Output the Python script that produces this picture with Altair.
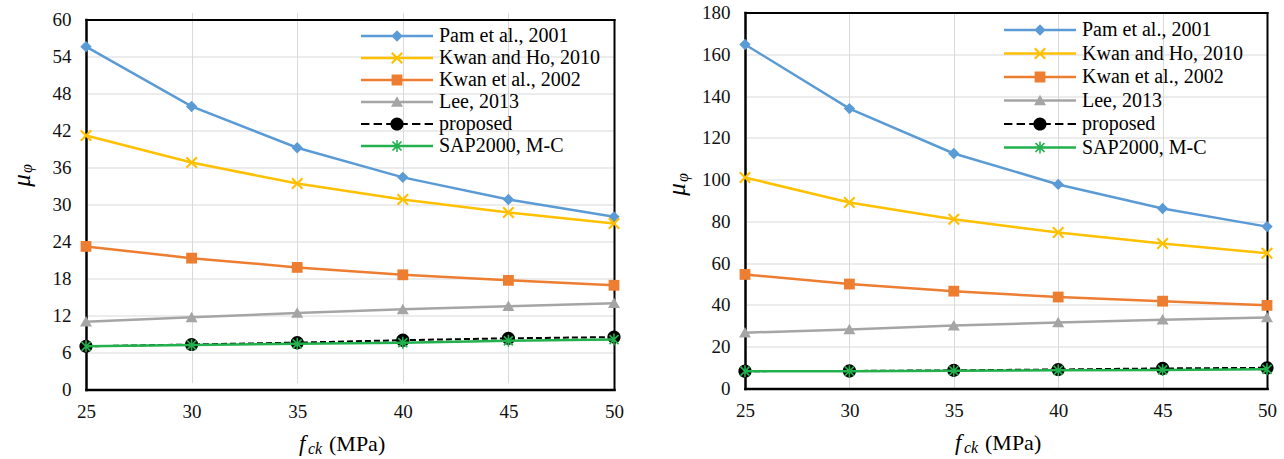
import altair as alt
import pandas as pd

FONT = "Liberation Serif"

FCK = [25, 30, 35, 40, 45, 50]
SERIES = ["Pam et al., 2001", "Kwan and Ho, 2010", "Kwan et al., 2002",
          "Lee, 2013", "proposed", "SAP2000, M-C"]
COLORS = ["#5B9BD5", "#FFC000", "#ED7D31", "#A5A5A5", "#000000", "#22B14C"]

# left panel values
LEFT_PAM = [55.6, 45.9, 39.2, 34.4, 30.8, 28.0]
LEFT_KWAN_HO = [41.2, 36.8, 33.4, 30.8, 28.7, 26.9]
LEFT_KWAN = [23.2, 21.3, 19.8, 18.6, 17.7, 16.9]
LEFT_LEE = [11.0, 11.7, 12.4, 13.0, 13.5, 14.0]
LEFT_PROPOSED = [7.0, 7.3, 7.6, 8.0, 8.3, 8.5]
LEFT_SAP = [7.0, 7.2, 7.4, 7.6, 7.9, 8.1]
LEFT_YTICKS = [0, 6, 12, 18, 24, 30, 36, 42, 48, 54, 60]

# right panel values
RIGHT_PAM = [164.7, 134.0, 112.5, 97.7, 86.2, 77.5]
RIGHT_KWAN_HO = [101.0, 89.0, 81.0, 74.7, 69.4, 64.8]
RIGHT_KWAN = [54.6, 50.0, 46.6, 43.8, 41.8, 39.8]
RIGHT_LEE = [26.7, 28.3, 30.1, 31.6, 32.9, 34.0]
RIGHT_PROPOSED = [8.3, 8.4, 8.7, 9.1, 9.6, 9.9]
RIGHT_SAP = [8.3, 8.3, 8.5, 8.7, 8.9, 9.2]
RIGHT_YTICKS = [0, 20, 40, 60, 80, 100, 120, 140, 160, 180]


# ---- marker shapes (unit coordinates) ----
def poly(points, dx=0.0):
    return "M" + "L".join(f"{x + dx:.3f},{y:.3f}" for x, y in points) + "Z"


def xshape(s, t):
    return [(-s, -s + t), (-s + t, -s), (0, -t), (s - t, -s), (s, -s + t), (t, 0),
            (s, s - t), (s - t, s), (0, t), (-s + t, s), (-s, s - t), (-t, 0)]


def marker(i, dx=0.0):
    if i == 0:
        return poly([(0, -0.95), (0.95, 0), (0, 0.95), (-0.95, 0)], dx)
    if i == 1:
        return poly(xshape(1.0, 0.25), dx)
    if i == 2:
        return poly([(-0.9, -0.9), (0.9, -0.9), (0.9, 0.9), (-0.9, 0.9)], dx)
    if i == 3:
        return poly([(0, -0.95), (1.0, 0.8), (-1.0, 0.8)], dx)
    if i == 4:
        r = 1.1
        return (f"M{dx + r:.3f},0A{r},{r} 0 1,1 {dx - r:.3f},0"
                f"A{r},{r} 0 1,1 {dx + r:.3f},0Z")
    return (poly(xshape(0.85, 0.2), dx)
            + poly([(-0.13, -1.0), (0.13, -1.0), (0.13, 1.0), (-0.13, 1.0)], dx))


def glyph(i):
    if SERIES[i] == "proposed":
        segs = [(-11, -9.6), (-8.9, -7.5), (-6.8, -6.0), (-4.0, -3.2), (-2.5, -1.1), (-0.4, 1.0)]
        h = 0.17
    else:
        segs = [(-11, 1.0)]
        h = 0.21
    line = "".join(poly([(a, -h), (b, -h), (b, h), (a, h)]) for a, b in segs)
    return line + marker(i, -5.0)


GLYPHS = [glyph(i) for i in range(len(SERIES))]


def text_piece(text, x, y, size, italic=False, angle=0, align="left", baseline="alphabetic"):
    kw = dict(text=text, font=FONT, fontSize=size, color="black", align=align,
              baseline=baseline, fontStyle="italic" if italic else "normal")
    if angle:
        kw["angle"] = angle
    return alt.Chart(alt.InlineData(values=[{}])).mark_text(**kw).encode(
        x=alt.value(x), y=alt.value(y))


def panel(series_values, ydom, yticks, W, H, top_gap, leg_x, leg_y, row_pad, ytitle):
    rows = []
    for s, vals in zip(SERIES, series_values):
        for xv, v in zip(FCK, vals):
            rows.append({"fck": xv, "mu": v, "series": s})
    df = pd.DataFrame(rows)
    ylo, yhi = ydom

    xscale = alt.Scale(domain=[25, 50], nice=False, zero=False)
    yscale = alt.Scale(domain=[ylo, yhi], nice=False, range=[H, top_gap])

    label_kw = dict(labelFont=FONT, labelFontSize=19, labelColor="#111111", labelFlush=False)

    # axes with labels and grid (bottom / left)
    xax = alt.Axis(orient="bottom", values=FCK, title=None, labelPadding=13, grid=True, gridWidth=1,
                   gridColor={"condition": {"test": "datum.value == 25 || datum.value == 50",
                                            "value": "transparent"}, "value": "#d9d9d9"},
                   domainColor="black", domainWidth=2.5, domainCap="square", ticks=False,
                   **label_kw)
    yax = alt.Axis(orient="left", values=yticks, title=None, labelPadding=15, grid=True, gridWidth=1,
                   gridColor={"condition": {"test": f"datum.value == {ylo} || datum.value == {yhi}",
                                            "value": "transparent"}, "value": "#d9d9d9"},
                   domainColor="black", domainWidth=2.5, domainCap="square", ticks=False,
                   **label_kw)
    # frame lines only (top / right)
    xtop = alt.Axis(orient="top", values=FCK, title=None, labels=False, grid=False,
                    offset=-top_gap, domainColor="black", domainWidth=2, domainCap="square",
                    ticks=False)
    yright = alt.Axis(orient="right", values=yticks, title=None, labels=False, grid=False,
                      domainColor="black", domainWidth=2, domainCap="square", ticks=False)

    base = alt.Chart(df).encode(
        x=alt.X("fck:Q", scale=xscale, axis=None),
        y=alt.Y("mu:Q", scale=yscale, axis=None),
    )
    frame_a = alt.Chart(df).transform_filter("false").mark_point().encode(
        x=alt.X("fck:Q", scale=xscale, axis=xax), y=alt.Y("mu:Q", scale=yscale, axis=yax))
    frame_b = alt.Chart(df).transform_filter("false").mark_point().encode(
        x=alt.X("fck:Q", scale=xscale, axis=xtop), y=alt.Y("mu:Q", scale=yscale, axis=yright))

    layers = [frame_a, frame_b]
    for i, s in enumerate(SERIES):
        sub = base.transform_filter(alt.datum.series == s)
        lkw = dict(color=COLORS[i], strokeWidth=2.5)
        if s == "proposed":
            lkw["strokeDash"] = [6, 3]
            lkw["strokeWidth"] = 2
        layers.append(sub.mark_line(**lkw))
        layers.append(sub.mark_point(filled=True, opacity=1, size=144, color=COLORS[i],
                                     shape=marker(i)))

    leg = alt.Legend(orient="none", legendX=leg_x, legendY=leg_y, title=None,
                     symbolSize=144, symbolStrokeWidth=0, labelFont=FONT, labelFontSize=20,
                     labelColor="black", labelOffset=2, rowPadding=row_pad, padding=0,
                     labelLimit=400)
    layers.append(
        base.transform_filter("false").mark_point(filled=True, opacity=1, size=144).encode(
            color=alt.Color("series:N", scale=alt.Scale(domain=SERIES, range=COLORS), legend=leg),
            shape=alt.Shape("series:N", scale=alt.Scale(domain=SERIES, range=GLYPHS), legend=leg),
        )
    )

    cx = W / 2
    ty = H + 61
    layers.append(text_piece("f", cx - 51, ty, 23, italic=True))
    layers.append(text_piece("ck", cx - 42, ty + 3, 16, italic=True))
    layers.append(text_piece("(MPa)", cx - 21, ty, 22))
    (mx, my), (px, py) = ytitle
    layers.append(text_piece("μ", mx, my, 25, italic=True, angle=270, align="center", baseline="middle"))
    layers.append(text_piece("φ", px, py, 16, italic=True, angle=270, align="center", baseline="middle"))
    return alt.layer(*layers).resolve_axis(x="independent", y="independent").properties(
        width=W, height=H)


left = panel([LEFT_PAM, LEFT_KWAN_HO, LEFT_KWAN, LEFT_LEE, LEFT_PROPOSED, LEFT_SAP],
             (0, 60), LEFT_YTICKS, 528, 377, 7, 331, 13.5, 2,
             ((-64.5, 168), (-59.5, 156)))
right = panel([RIGHT_PAM, RIGHT_KWAN_HO, RIGHT_KWAN, RIGHT_LEE, RIGHT_PROPOSED, RIGHT_SAP],
              (0, 180), RIGHT_YTICKS, 522, 376, 0, 315, 7.5, 3.5,
              ((-68, 177), (-62.5, 165)))

chart = alt.hconcat(left, right, spacing=40).resolve_scale(
    color="independent", shape="independent"
).properties(
    padding={"left": 9, "top": 2.5, "right": 0, "bottom": 0},
    background="white",
).configure_view(stroke="transparent")

chart.save("out.html", embed_options={"renderer": "svg", "actions": False})
